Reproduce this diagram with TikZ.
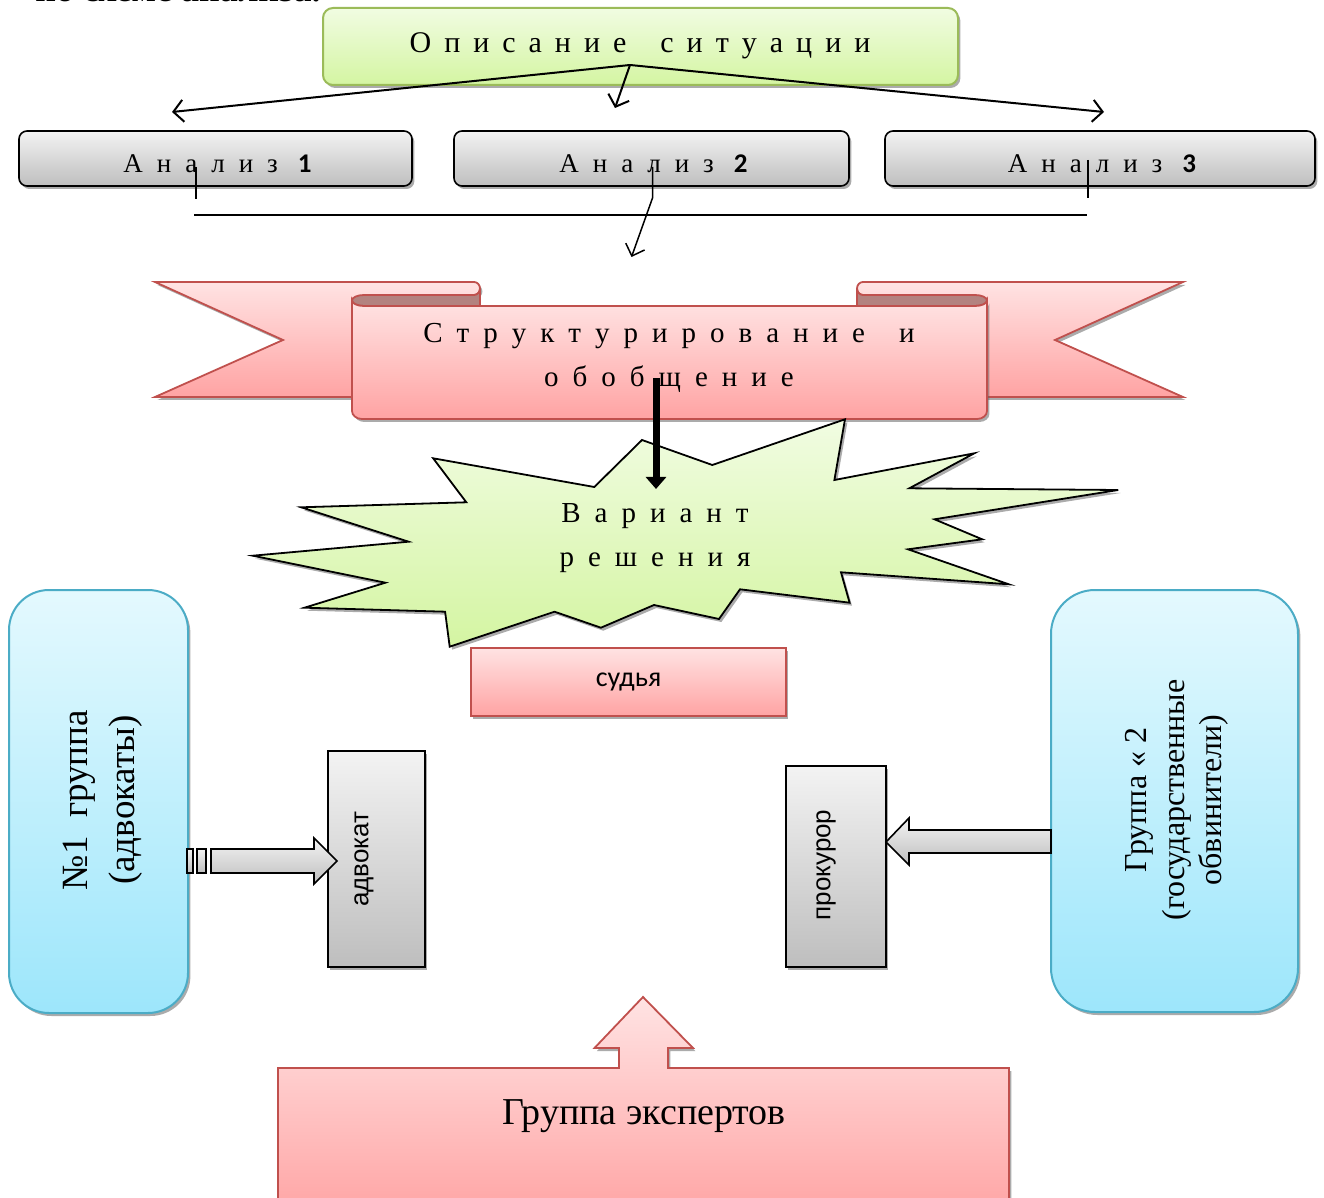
\documentclass[tikz,border=0pt]{standalone}
\usepackage{fontspec}
\setmainfont{Liberation Serif}
\newfontfamily\carlito{Carlito}
\newfontfamily\arialf{Liberation Sans}
\usetikzlibrary{shadows,arrows.meta,calc}
\definecolor{grnB}{HTML}{9BBB59}
\definecolor{grnT}{HTML}{F1FCE2}
\definecolor{grnD}{HTML}{D4F5A2}
\definecolor{grayT}{HTML}{F3F3F3}
\definecolor{grayD}{HTML}{BEBEBE}
\definecolor{redB}{HTML}{C0504D}
\definecolor{pinkT}{HTML}{FFE3E3}
\definecolor{pinkD}{HTML}{FFA3A3}
\definecolor{blueB}{HTML}{4BACC6}
\definecolor{blueT}{HTML}{E4F9FE}
\definecolor{blueD}{HTML}{9DE6FB}
\definecolor{foldC}{HTML}{B3827F}
\newcommand\spcfont{\fontsize{14.5}{22}\selectfont\spaceskip=7pt\relax}
\newcommand\ttlfont{\fontsize{15}{18}\selectfont\spaceskip=6.5pt\relax}
\newcommand\anlfont{\fontsize{13.5}{16}\selectfont\spaceskip=7pt\relax}
\tikzset{
  shd/.style={drop shadow={shadow xshift=1.2pt,shadow yshift=-1.5pt,fill=black!60,opacity=0.55}},
  greenbox/.style={draw=grnB,line width=1pt,top color=grnT,bottom color=grnD,rounded corners=5pt,shd,inner sep=0pt},
  graybox/.style={draw=black,line width=0.8pt,top color=grayT,bottom color=grayD,shd,inner sep=0pt},
  grayrbox/.style={graybox,rounded corners=4pt},
  pinkbox/.style={draw=redB,line width=0.9pt,top color=pinkT,bottom color=pinkD,shd,inner sep=0pt},
  bluebox/.style={draw=blueB,line width=1pt,top color=blueT,bottom color=blueD,shd,inner sep=0pt},
  starfill/.style={draw=black,line width=0.9pt,top color=grnT,bottom color=grnD,shd},
  spc/.style={font=\spcfont},
  ttl/.style={font=\ttlfont},
  anl/.style={font=\anlfont},
  thinln/.style={line width=0.75pt},
  arr/.style={line width=1pt,-{Straight Barb[length=5pt,width=11pt]}},
  arrthin/.style={line width=0.75pt,-{Straight Barb[length=5pt,width=10pt]}},
  vert/.style={rotate=90,align=center},
}
\begin{document}
\begin{tikzpicture}[x=0.5pt,y=-0.5pt]
\useasboundingbox (0,0) rectangle (1324,1198);
% cut-off heading line
\node[anchor=base west,inner sep=0pt,font=\fontsize{18}{20}\selectfont\bfseries] (cap) at (35,1.5) {по схеме анализа.};
% title box
\node[greenbox,minimum width=317.5pt,minimum height=38.5pt] (tt) at (640.5,46.5) {};
\node[ttl] (ttx) at (640,46) {О п и с а н и е\hspace{17pt}с и т у а ц и и};
% analysis boxes
\node[grayrbox,minimum width=196.5pt,minimum height=27.5pt] (a1) at (215.5,158.5) {};
\node[grayrbox,minimum width=197.5pt,minimum height=27.5pt] (a2) at (651.5,158.5) {};
\node[grayrbox,minimum width=215pt,minimum height=27.5pt] (a3) at (1100,158.5) {};
\node[anl] (a1t) at (217.5,164) {А н а л и з\hspace{10pt}{\carlito\bfseries 1}};
\node[anl] (a2t) at (653.5,164) {А н а л и з\hspace{10pt}{\carlito\bfseries 2}};
\node[anl] (a3t) at (1102,164) {А н а л и з\hspace{10pt}{\carlito\bfseries 3}};
% arrows from title
\coordinate (tp) at (630,65);
\coordinate (e1) at (172,112);
\coordinate (e2) at (615,108);
\coordinate (e3) at (1104,112);
\draw[arr] (tp) -- (e1);
\draw[arr] (tp) -- (e2);
\draw[arr] (tp) -- (e3);
% lines below analyses
\coordinate (v1a) at (196,167);
\coordinate (v1b) at (196,199);
\coordinate (v3a) at (1088,160);
\coordinate (v3b) at (1088,198);
\coordinate (h1) at (194,215);
\coordinate (h2) at (1087,215);
\coordinate (m1) at (652.5,167);
\coordinate (m2) at (652.5,198);
\coordinate (m3) at (631.5,257);
\draw[thinln] (v1a) -- (v1b);
\draw[thinln] (v3a) -- (v3b);
\draw[thinln] (h1) -- (h2);
\draw[arrthin] (m1) -- (m2) -- (m3);
% ribbon
\path[draw=redB,line width=0.9pt,top color=pinkT,bottom color=pinkD,shd]
  (155,282) -- (474,282) arc[start angle=-90,end angle=90,x radius=6,y radius=6.5]
  -- (474,397) -- (155,397) -- (283,340) -- cycle;
\path[draw=redB,line width=0.9pt,top color=pinkT,bottom color=pinkD,shd]
  (1183,282) -- (863,282) arc[start angle=270,end angle=90,x radius=6,y radius=6.5]
  -- (863,397) -- (1183,397) -- (1055,340) -- cycle;
\path[draw=redB,line width=0.9pt,fill=foldC]
  (364,295) -- (474,295) arc[start angle=90,end angle=0,x radius=6,y radius=6.5]
  -- (480,306) -- (364,306) arc[start angle=90,end angle=270,x radius=12,y radius=5.5] -- cycle;
\path[draw=redB,line width=0.9pt,fill=foldC]
  (863,295) -- (975,295) arc[start angle=270,end angle=450,x radius=12,y radius=5.5]
  -- (857,306) -- (857,288.5) arc[start angle=180,end angle=90,x radius=6,y radius=6.5] -- cycle;
\path[draw=redB,line width=0.9pt,top color=pinkT,bottom color=pinkD,shd]
  (352,300.5) -- (352,411) arc[start angle=180,end angle=90,x radius=10,y radius=8]
  -- (977,419) arc[start angle=90,end angle=0,x radius=10,y radius=8]
  -- (987,300.5) arc[start angle=0,end angle=90,x radius=12,y radius=5.5]
  -- (364,306) arc[start angle=90,end angle=180,x radius=12,y radius=5.5] -- cycle;
\node[spc,align=center] (strt) at (669,358) {С т р у к т у р и р о в а н и е\hspace{17pt}и\\о б о б щ е н и е};
% starburst
\path[starfill]
  (433.2,458.3) -- (466.3,502.3) -- (301.2,507.3) -- (408.6,541.7) -- (252.8,555.7)
  -- (385.4,582.7) -- (304.5,607.7) -- (445.1,611.7) -- (449.7,646.7) -- (554.5,611.7)
  -- (600.9,627.7) -- (654,605) -- (719,619) -- (740,589.3) -- (849.6,602.7)
  -- (841,572.3) -- (1008.8,584.3) -- (908,549.3) -- (982.2,539.3) -- (934.5,519.3)
  -- (1118.2,490) -- (909.3,488.3) -- (974.3,453.3) -- (834.4,480) -- (845,419.3)
  -- (712.3,465) -- (642,440) -- (594.3,487) -- cycle;
\node[spc,align=center] (vart) at (655,538) {В а р и а н т\\р е ш е н и я};
% thick arrow
\coordinate (bs) at (656,378);
\coordinate (be) at (656,489);
\draw[line width=3.5pt,-{Triangle[length=6pt,width=10pt]}] (bs) -- (be);
% judge
\node[pinkbox,minimum width=157.5pt,minimum height=34pt,font=\carlito\fontsize{14}{16}\selectfont] (jud) at (628.5,682) {судья};
% group boxes
\node[bluebox,rounded corners=20pt,minimum width=89.5pt,minimum height=211.5pt] (g1) at (98.5,801.5) {};
\node[vert,font=\fontsize{18.5}{23.5}\selectfont] (g1t) at (103,800) {№1\ \ группа\\(адвокаты)};
\node[bluebox,rounded corners=22pt,minimum width=123.5pt,minimum height=211pt] (g2) at (1174.5,801) {};
\node[vert,font=\fontsize{16}{18.75}\selectfont] (g2t) at (1177,800) {Группа « 2\\(государственные\\обвинители)};
% lawyer / prosecutor
\node[graybox,minimum width=48.5pt,minimum height=108pt] (adv) at (376.5,859) {};
\node[vert,font=\arialf\fontsize{13}{15}\selectfont] (advt) at (364,859) {адвокат};
\node[graybox,minimum width=50pt,minimum height=100.5pt] (prok) at (836,866.5) {};
\node[vert,font=\arialf\fontsize{13}{15}\selectfont] (prokt) at (826,865) {прокурор};
% striped arrow g1 -> adv
\path[draw=black,line width=0.8pt,top color=grayT,bottom color=grayD] (187,849) rectangle (193,873);
\path[draw=black,line width=0.8pt,top color=grayT,bottom color=grayD] (197,849) rectangle (206,873);
\path[draw=black,line width=0.8pt,top color=grayT,bottom color=grayD]
  (211,849) -- (314,849) -- (314,838) -- (337,861) -- (314,884) -- (314,873) -- (211,873) -- cycle;
% arrow g2 -> prok
\path[draw=black,line width=0.8pt,top color=grayT,bottom color=grayD]
  (886,842) -- (909,818) -- (909,830) -- (1051,830) -- (1051,853) -- (909,853) -- (909,865) -- cycle;
% experts
\path[draw=redB,line width=0.9pt,top color=pinkT,bottom color=pinkD,shd]
  (278,1068) -- (619,1068) -- (619,1048) -- (594.5,1048) -- (643,997) -- (693,1048)
  -- (668,1048) -- (668,1068) -- (1009,1068) -- (1009,1220) -- (278,1220) -- cycle;
\node[font=\fontsize{19}{21}\selectfont] (expt) at (644,1116) {Группа экспертов};
\end{tikzpicture}
\end{document}
